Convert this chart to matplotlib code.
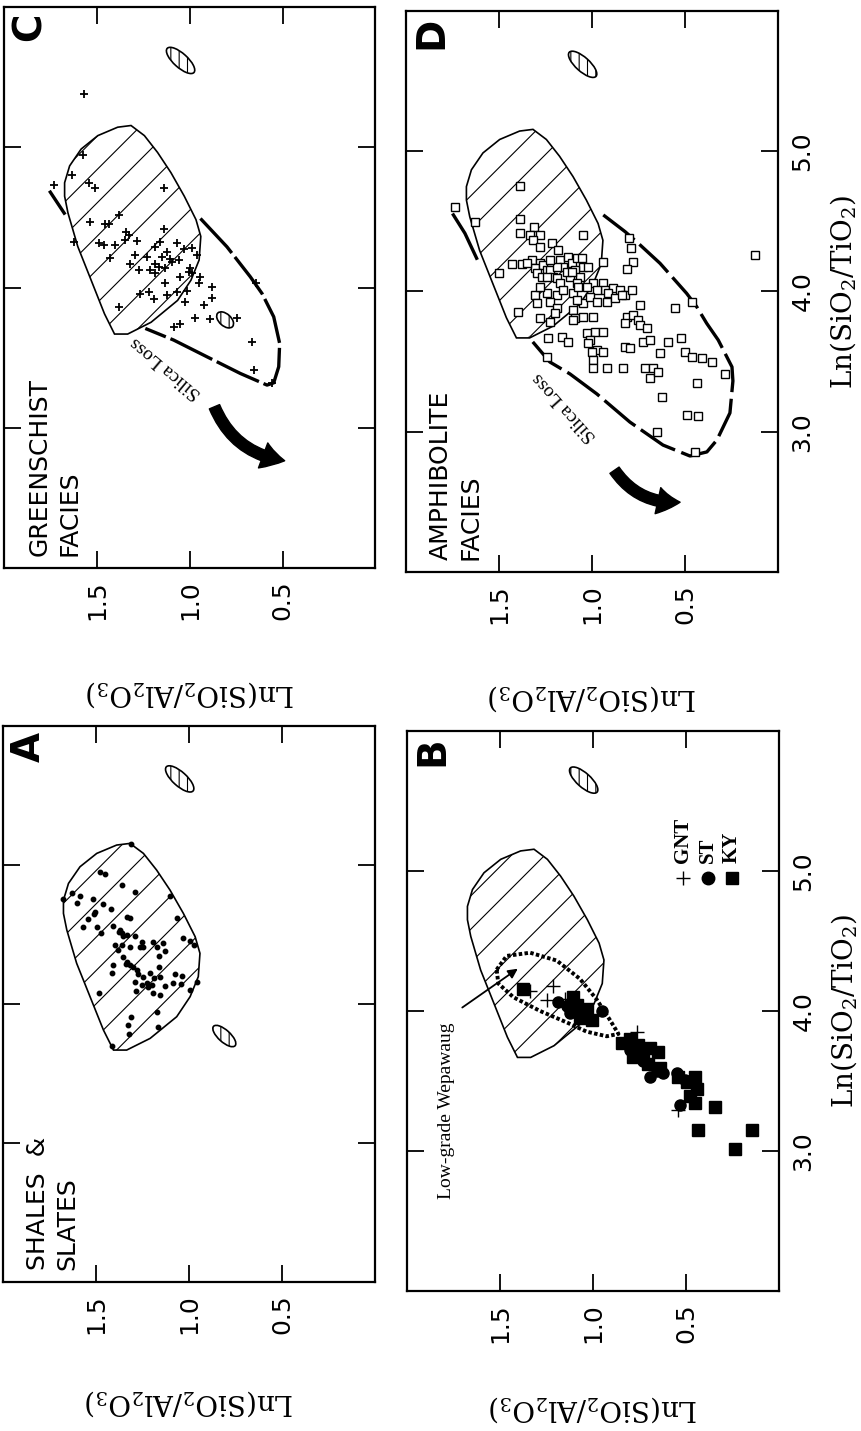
import numpy as np
import matplotlib.pyplot as plt
from matplotlib.patches import Polygon, Ellipse, FancyArrowPatch
from matplotlib.transforms import ScaledTranslation

plt.rcParams['font.family'] = ['DejaVu Sans']
plt.rcParams['mathtext.fontset'] = 'dejavuserif'
plt.rcParams['hatch.linewidth'] = 0.8

## axis ticks  (horizontal = Ln(SiO2/Al2O3), vertical = Ln(SiO2/TiO2))
al_ticks = [1.5, 1.0, 0.5]
al_ticklabels = ["1.5", "1.0", "0.5"]
ti_ticks = [3.0, 4.0, 5.0]
ti_ticklabels = ["3.0", "4.0", "5.0"]

## shale / slate field outline
field_al = [1.675, 1.648, 1.586, 1.496, 1.389, 1.317, 1.245, 1.174, 1.102, 1.030, 0.967, 0.941,
	0.950, 0.994, 1.066, 1.209, 1.335, 1.406, 1.460, 1.532, 1.604, 1.657, 1.675]
field_ti = [4.748, 4.868, 4.988, 5.084, 5.144, 5.156, 5.084, 4.964, 4.820, 4.652, 4.485, 4.365,
	4.197, 4.053, 3.909, 3.753, 3.669, 3.669, 3.813, 4.053, 4.293, 4.533, 4.652]

## error ellipses
ell_al = [1.05, 0.81]
ell_ti = [5.62, 3.77]

## A: shales & slates
shale_al = [1.313, 1.478, 1.451, 1.362, 1.290, 1.675, 1.631, 1.586, 1.604, 1.514, 1.460, 1.421,
	1.102, 1.505, 1.510, 1.335, 1.317, 1.541, 1.066, 1.571, 1.496, 1.410, 1.371, 1.362, 1.353,
	1.374, 1.475, 1.331, 1.290, 1.254, 1.263, 1.245, 1.191, 1.174, 1.138, 1.034, 0.994, 0.973,
	1.398, 1.362, 1.380, 1.317, 1.159, 1.129, 1.353, 1.331, 1.317, 1.299, 1.338, 1.406, 1.281,
	1.161, 1.415, 1.272, 1.245, 1.209, 1.188, 1.156, 1.075, 1.039, 1.290, 1.227, 1.218, 1.200,
	1.129, 1.084, 1.044, 1.254, 1.285, 1.191, 1.156, 0.994, 0.958, 1.482, 1.170, 1.313, 1.326,
	1.165, 1.320, 1.415]
shale_ti = [5.151, 4.952, 4.935, 4.856, 4.804, 4.756, 4.796, 4.777, 4.729, 4.756, 4.720, 4.681,
	4.777, 4.664, 4.648, 4.624, 4.617, 4.609, 4.617, 4.552, 4.557, 4.561, 4.533, 4.509, 4.489,
	4.521, 4.509, 4.497, 4.489, 4.449, 4.413, 4.408, 4.449, 4.413, 4.441, 4.473, 4.453, 4.425,
	4.425, 4.425, 4.389, 4.413, 4.346, 4.384, 4.341, 4.305, 4.281, 4.269, 4.288, 4.281, 4.245,
	4.269, 4.226, 4.216, 4.197, 4.226, 4.185, 4.197, 4.214, 4.204, 4.161, 4.154, 4.125, 4.137,
	4.130, 4.154, 4.144, 4.137, 4.096, 4.077, 4.065, 4.101, 4.161, 4.077, 3.945, 3.909, 3.849,
	3.837, 3.784, 3.698]

## C: greenschist facies
green_al = [1.572, 1.576, 1.635, 1.545, 1.510, 1.138, 1.384, 1.540, 1.456, 1.438, 1.141, 1.342,
	1.330, 1.626, 1.492, 1.465, 1.402, 1.285, 1.348, 1.069, 1.186, 1.159, 1.033, 0.988, 1.123,
	0.961, 1.429, 1.294, 1.231, 1.150, 1.105, 1.096, 1.060, 1.321, 1.186, 1.276, 1.213, 1.186,
	1.168, 1.132, 0.997, 1.006, 0.988, 1.051, 0.943, 1.132, 0.881, 0.952, 1.267, 1.222, 1.123,
	1.069, 1.015, 0.881, 1.195, 1.024, 0.925, 1.384, 0.970, 0.890, 1.087, 1.051, 0.746, 0.665,
	0.656, 0.642, 0.557, 1.731]
green_ti = [5.384, 4.945, 4.802, 4.743, 4.707, 4.714, 4.517, 4.469, 4.457, 4.453, 4.415, 4.398,
	4.374, 4.327, 4.320, 4.303, 4.303, 4.334, 4.339, 4.320, 4.291, 4.327, 4.279, 4.286, 4.255,
	4.232, 4.208, 4.232, 4.220, 4.220, 4.201, 4.184, 4.196, 4.172, 4.167, 4.125, 4.125, 4.101,
	4.148, 4.137, 4.137, 4.113, 4.101, 4.077, 4.077, 4.034, 4.006, 4.034, 3.958, 3.970, 3.946,
	3.970, 3.977, 3.923, 3.916, 3.899, 3.875, 3.863, 3.787, 3.773, 3.721, 3.744, 3.787, 3.614,
	3.416, 4.034, 3.317, 4.731]
env_c_al = [0.943, 0.800, 0.674, 0.611, 0.548, 0.516, 0.521, 0.548, 0.584, 0.728, 0.908, 1.087, 1.240]
env_c_ti = [4.493, 4.291, 4.077, 3.958, 3.792, 3.602, 3.436, 3.321, 3.305, 3.388, 3.507, 3.626, 3.709]
env_c_left_al = [1.752, 1.677]
env_c_left_ti = [4.681, 4.531]

## D: amphibolite facies
amph_al = [1.736, 1.629, 1.387, 1.387, 1.312, 1.387, 1.333, 1.279, 1.315, 1.050, 1.217, 1.279,
	1.181, 1.432, 1.378, 1.324, 1.279, 1.306, 1.261, 1.244, 1.498, 1.297, 1.270, 1.226, 1.208,
	1.172, 1.154, 1.127, 1.109, 1.082, 1.055, 1.046, 1.091, 1.118, 1.064, 1.020, 0.942, 1.190,
	1.172, 1.082, 0.993, 0.939, 0.930, 0.885, 0.912, 0.849, 0.975, 0.792, 0.778, 0.799, 0.813,
	0.822, 0.787, 1.306, 1.244, 1.190, 1.154, 1.100, 1.297, 1.226, 1.046, 1.011, 0.975, 0.921,
	0.876, 0.840, 1.082, 1.100, 1.091, 1.190, 1.199, 1.396, 1.279, 1.226, 1.100, 1.046, 0.993,
	0.813, 0.778, 0.822, 0.751, 0.742, 0.706, 0.554, 0.742, 0.464, 1.235, 1.163, 1.127, 1.028,
	0.984, 1.011, 0.939, 1.244, 1.020, 0.975, 0.939, 1.002, 0.822, 0.795, 0.724, 0.688, 0.634,
	0.589, 0.523, 0.500, 0.464, 0.410, 0.356, 0.993, 0.993, 0.921, 0.831, 0.715, 0.670, 0.688,
	0.643, 0.437, 0.625, 0.491, 0.428, 0.652, 0.124, 0.285, 0.446, 1.244, 1.136, 1.190, 1.073,
	1.028, 1.279, 1.351, 1.226, 1.109]
amph_ti = [4.600, 4.498, 4.752, 4.517, 4.458, 4.415, 4.403, 4.403, 4.367, 4.403, 4.344, 4.320,
	4.296, 4.196, 4.196, 4.225, 4.201, 4.165, 4.189, 4.153, 4.130, 4.130, 4.106, 4.153, 4.106,
	4.225, 4.177, 4.249, 4.201, 4.237, 4.237, 4.177, 4.153, 4.106, 4.106, 4.177, 4.208, 4.094,
	4.058, 4.058, 4.058, 4.058, 4.011, 4.023, 3.987, 4.011, 4.011, 4.308, 4.213, 4.379, 4.161,
	3.975, 4.011, 3.975, 3.987, 3.975, 4.011, 3.987, 3.916, 3.928, 3.916, 3.963, 3.928, 3.928,
	3.951, 3.975, 3.940, 3.868, 3.809, 3.880, 3.845, 3.856, 3.809, 3.785, 3.797, 3.821, 3.821,
	3.821, 3.833, 3.773, 3.797, 3.761, 3.738, 3.880, 3.904, 3.928, 3.666, 3.678, 3.643, 3.702,
	3.714, 3.654, 3.714, 3.536, 3.631, 3.583, 3.571, 3.571, 3.607, 3.595, 3.643, 3.654, 3.559,
	3.643, 3.666, 3.571, 3.536, 3.524, 3.500, 3.512, 3.452, 3.452, 3.452, 3.452, 3.452, 3.381,
	3.429, 3.345, 3.250, 3.120, 3.113, 3.001, 4.260, 3.410, 2.856, 4.106, 4.141, 4.177, 4.035,
	4.035, 4.035, 4.201, 4.225, 4.141]
env_d_al = [0.939, 0.822, 0.751, 0.634, 0.491, 0.437, 0.383, 0.321, 0.247, 0.242, 0.258, 0.328,
	0.382, 0.473, 0.618, 0.796, 0.973, 1.118, 1.226, 1.342]
env_d_ti = [4.546, 4.427, 4.344, 4.201, 3.987, 3.892, 3.773, 3.654, 3.462, 3.362, 3.134, 2.941,
	2.856, 2.827, 2.905, 3.069, 3.269, 3.412, 3.497, 3.678]
env_d_left_al = [1.745, 1.683, 1.620]
env_d_left_ti = [4.546, 4.415, 4.237]

## B: Wepawaug minerals
gnt_al = [1.213, 1.249, 1.150, 1.338, 0.541, 0.765]
gnt_ti = [4.181, 4.076, 4.083, 4.142, 3.296, 3.853]
st_al = [1.186, 1.141, 0.953, 1.123, 1.061, 0.801, 0.729, 0.693, 0.621, 0.550, 0.505, 0.532, 0.657]
st_ti = [4.066, 4.033, 4.001, 3.984, 4.001, 3.722, 3.640, 3.526, 3.558, 3.558, 3.509, 3.329, 3.575]
ky_al = [1.374, 1.105, 1.087, 1.043, 1.070, 1.007, 1.034, 0.846, 0.801, 0.756, 0.729, 0.693,
	0.648, 0.783, 0.702, 0.639, 0.541, 0.496, 0.451, 0.442, 0.478, 0.451, 0.344, 0.433, 0.147, 0.236]
ky_ti = [4.155, 4.099, 4.043, 3.984, 3.951, 3.935, 4.017, 3.771, 3.804, 3.755, 3.689, 3.739,
	3.706, 3.673, 3.624, 3.591, 3.526, 3.493, 3.526, 3.444, 3.395, 3.345, 3.313, 3.149, 3.149, 3.018]
wep_al = [1.518, 1.464, 1.338, 1.195, 1.070, 0.980, 0.908, 0.863, 0.926, 1.034, 1.141, 1.285, 1.428, 1.509, 1.518]
wep_ti = [4.296, 4.394, 4.417, 4.361, 4.230, 4.083, 3.935, 3.837, 3.820, 3.853, 3.919, 4.001, 4.099, 4.197, 4.296]

## silica loss arrows (tail, head)
arrow_c = [(0.873, 3.169), (0.474, 2.763)]
arrow_d = [(0.887, 2.742), (0.511, 2.499)]

serif = "DejaVu Serif"
times = "Liberation Serif"


def setup(ax, letter, right_labels, xlab_y):
	ax.set_xlim(2.0, 0.0)
	ax.set_ylim(2.0, 6.0)
	ax.set_xticks(al_ticks)
	ax.set_xticklabels(al_ticklabels, rotation=90, fontsize=18)
	ax.set_yticks(ti_ticks)
	ax.tick_params(direction="in", length=12, width=1.3,
		top=True, bottom=True, left=True, right=True, pad=9)
	ax.tick_params(axis="y", labelleft=False, labelright=right_labels)
	if right_labels:
		ax.set_yticklabels(ti_ticklabels, rotation=90, fontsize=18, va="center")
		ax.set_ylabel(r"Ln(SiO$_2$/TiO$_2$)", fontsize=20, family=serif)
		ax.yaxis.set_label_position("right")
		ax.yaxis.set_label_coords(1.175, 0.5)
		ax.yaxis.label.set_rotation(90)
		ax.yaxis.label.set_va("center")
	ax.set_xlabel(r"Ln(SiO$_2$/Al$_2$O$_3$)", fontsize=20, family=serif, rotation=180)
	ax.xaxis.set_label_coords(0.5, xlab_y)
	ax.xaxis.label.set_va("center")
	for s in ax.spines.values():
		s.set_linewidth(1.6)
	ax.text(0.018, 0.99, letter, transform=ax.transAxes, rotation=90,
		ha="left", va="top", fontsize=28, fontweight="heavy")
	## shale field
	ax.add_patch(Polygon(np.column_stack([field_al, field_ti]), closed=True,
		fill=False, hatch="/", edgecolor="black", lw=1.2, zorder=2))


def ellipse(ax, a, t, w=0.36, h=0.14):
	tr = fig.dpi_scale_trans + ScaledTranslation(a, t, ax.transData)
	ax.add_patch(Ellipse((0, 0), w, h, angle=-42, transform=tr, fill=False,
		hatch="||", edgecolor="black", lw=1.2, zorder=3))


def facies_text(ax, txt):
	ax.text(0.062, 0.022, txt, transform=ax.transAxes, rotation=90,
		rotation_mode="anchor", ha="left", va="top", fontsize=18, linespacing=1.3)


def silica_arrow(ax, arr):
	ax.add_patch(FancyArrowPatch(arr[0], arr[1],
		arrowstyle="simple,head_length=1.0,head_width=1.2,tail_width=0.5",
		connectionstyle="arc3,rad=0.3", mutation_scale=16,
		color="black", zorder=4))


fig = plt.figure(figsize=(8.61, 14.31), dpi=100)
ax_c = fig.add_axes([0.005, 0.603, 0.431, 0.392])
ax_d = fig.add_axes([0.4715, 0.6003, 0.432, 0.392])
ax_a = fig.add_axes([0.0035, 0.1041, 0.432, 0.3885])
ax_b = fig.add_axes([0.4727, 0.0978, 0.432, 0.3913])

setup(ax_c, "C", False, -0.225)
setup(ax_d, "D", True, -0.225)
setup(ax_a, "A", False, -0.218)
setup(ax_b, "B", True, -0.21)

## A
ax_a.plot(shale_al, shale_ti, "o", color="black", ms=3.2, zorder=5)
ellipse(ax_a, ell_al[0], ell_ti[0])
ellipse(ax_a, ell_al[1], ell_ti[1], w=0.29, h=0.12)
facies_text(ax_a, "SHALES  &\nSLATES")

## C
ax_c.plot(green_al, green_ti, "+", color="black", ms=5.5, mew=1.3, zorder=5)
ax_c.plot(env_c_al, env_c_ti, color="black", lw=2.4, ls=(0, (14, 1.5)), zorder=3)
ax_c.plot(env_c_left_al, env_c_left_ti, color="black", lw=2.4, zorder=3)
ellipse(ax_c, ell_al[0], ell_ti[0])
ellipse(ax_c, ell_al[1], ell_ti[1], w=0.2, h=0.12)
silica_arrow(ax_c, arrow_c)
ax_c.text(1.13, 3.43, "Silica Loss", rotation=140, ha="center", va="center",
	fontsize=14, family=times, rotation_mode="anchor")
facies_text(ax_c, "GREENSCHIST\nFACIES")

## D
ax_d.plot(amph_al, amph_ti, "s", mfc="white", mec="black", ms=5.5, mew=1.0, zorder=5)
ax_d.plot(env_d_al, env_d_ti, color="black", lw=2.4, ls=(0, (12, 2)), zorder=3)
ax_d.plot(env_d_left_al, env_d_left_ti, color="black", lw=2.4, zorder=3)
ellipse(ax_d, ell_al[0], ell_ti[0])
silica_arrow(ax_d, arrow_d)
ax_d.text(1.145, 3.18, "Silica Loss", rotation=132, ha="center", va="center",
	fontsize=14, family=times, rotation_mode="anchor")
facies_text(ax_d, "AMPHIBOLITE\nFACIES")

## B
ax_b.plot(wep_al, wep_ti, color="black", lw=2.8, ls=(0, (0.9, 0.6)), zorder=3)
ax_b.plot(ky_al, ky_ti, "s", color="black", ms=8, zorder=5)
ax_b.plot(st_al, st_ti, "o", color="black", ms=8, zorder=5)
ax_b.plot(gnt_al, gnt_ti, "+", color="black", ms=10, mew=1.0, zorder=5)
ellipse(ax_b, ell_al[0], ell_ti[0] + 0.03)
ax_b.annotate("", xy=(1.392, 4.314), xytext=(1.715, 4.014),
	arrowprops=dict(arrowstyle="-|>", color="black", lw=1.3, mutation_scale=14))
ax_b.text(1.785, 3.29, "Low-grade Wepawaug", rotation=90, ha="center", va="center",
	fontsize=14, family=times)
## legend
leg_names = ["GNT", "ST", "KY"]
leg_marks = [dict(marker="+", ms=10, mew=1.0), dict(marker="o", ms=9), dict(marker="s", ms=8)]
for i, (name, mk) in enumerate(zip(leg_names, leg_marks)):
	xx = 0.742 + i * 0.066
	ax_b.plot([xx], [0.7375], transform=ax_b.transAxes, color="black", ls="none", clip_on=False, **mk)
	ax_b.text(xx, 0.765, name, transform=ax_b.transAxes, rotation=90, rotation_mode="anchor",
		ha="left", va="center", fontsize=15, fontweight="bold", family=times)

fig.savefig("out.png", dpi=100)
plt.close()
